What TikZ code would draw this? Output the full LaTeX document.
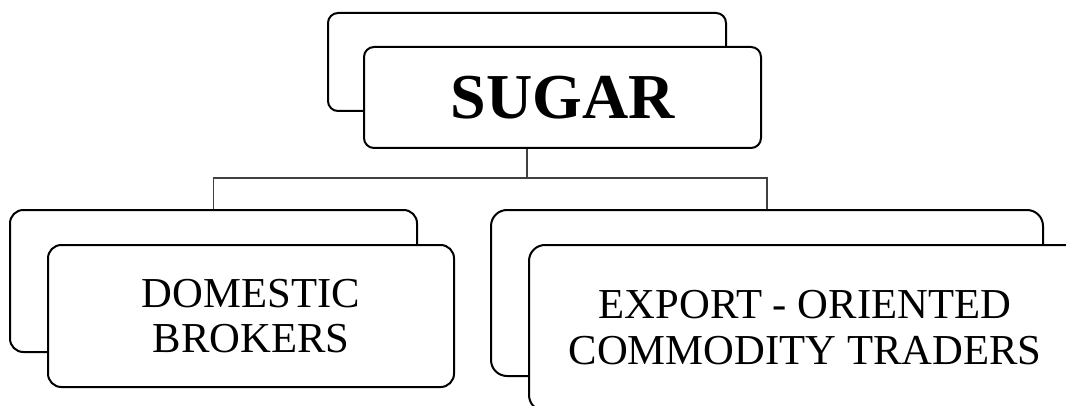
\documentclass[tikz,border=0pt]{standalone}
\usepackage{fontspec}
\setmainfont{Liberation Serif}
\begin{document}
\begin{tikzpicture}[x=0.75pt,y=-0.75pt]
\tikzset{
  boxbase/.style={draw=black, fill=white, line width=1.5pt, rectangle, inner sep=0pt, anchor=north west, align=center},
  link/.style={draw=black!75, line width=0.8pt},
  bigtext/.style={font=\fontsize{48}{50}\selectfont\bfseries},
  midtext/.style={font=\fontsize{32}{33.5}\selectfont},
  midtextb/.style={font=\fontsize{32}{34.5}\selectfont},
}
\useasboundingbox (0,0) rectangle (1066,406);
\clip (0,0) rectangle (1066,406);
% top
\node[boxbase, minimum width=298.5pt, minimum height=73.5pt, rounded corners=7.5pt] (sugarback) at (327,12) {};
\node[boxbase, minimum width=297.75pt, minimum height=75.75pt, rounded corners=7.5pt, bigtext] (sugar) at (363,46) {SUGAR};
% left
\node[boxbase, minimum width=305.25pt, minimum height=106.5pt, rounded corners=10pt] (dombk) at (9,209) {};
\node[boxbase, minimum width=304.5pt, minimum height=106.5pt, rounded corners=10pt, midtext] (dom) at (47,244) {DOMESTIC\\BROKERS};
% right
\node[boxbase, minimum width=414pt, minimum height=124.5pt, rounded corners=12pt] (expbk) at (490,209) {};
\node[boxbase, minimum width=414pt, minimum height=124.5pt, rounded corners=12pt, midtextb] (exp) at (528,244) {EXPORT - ORIENTED\\COMMODITY TRADERS};
% connectors
\coordinate (hub) at (sugarback.south |- 0,178);
\draw[link] (hub |- sugar.south) -- (hub);
\draw[link] (dombk.north) -- (dombk.north |- hub) -- (expbk.north |- hub) -- (expbk.north);
\end{tikzpicture}
\end{document}
